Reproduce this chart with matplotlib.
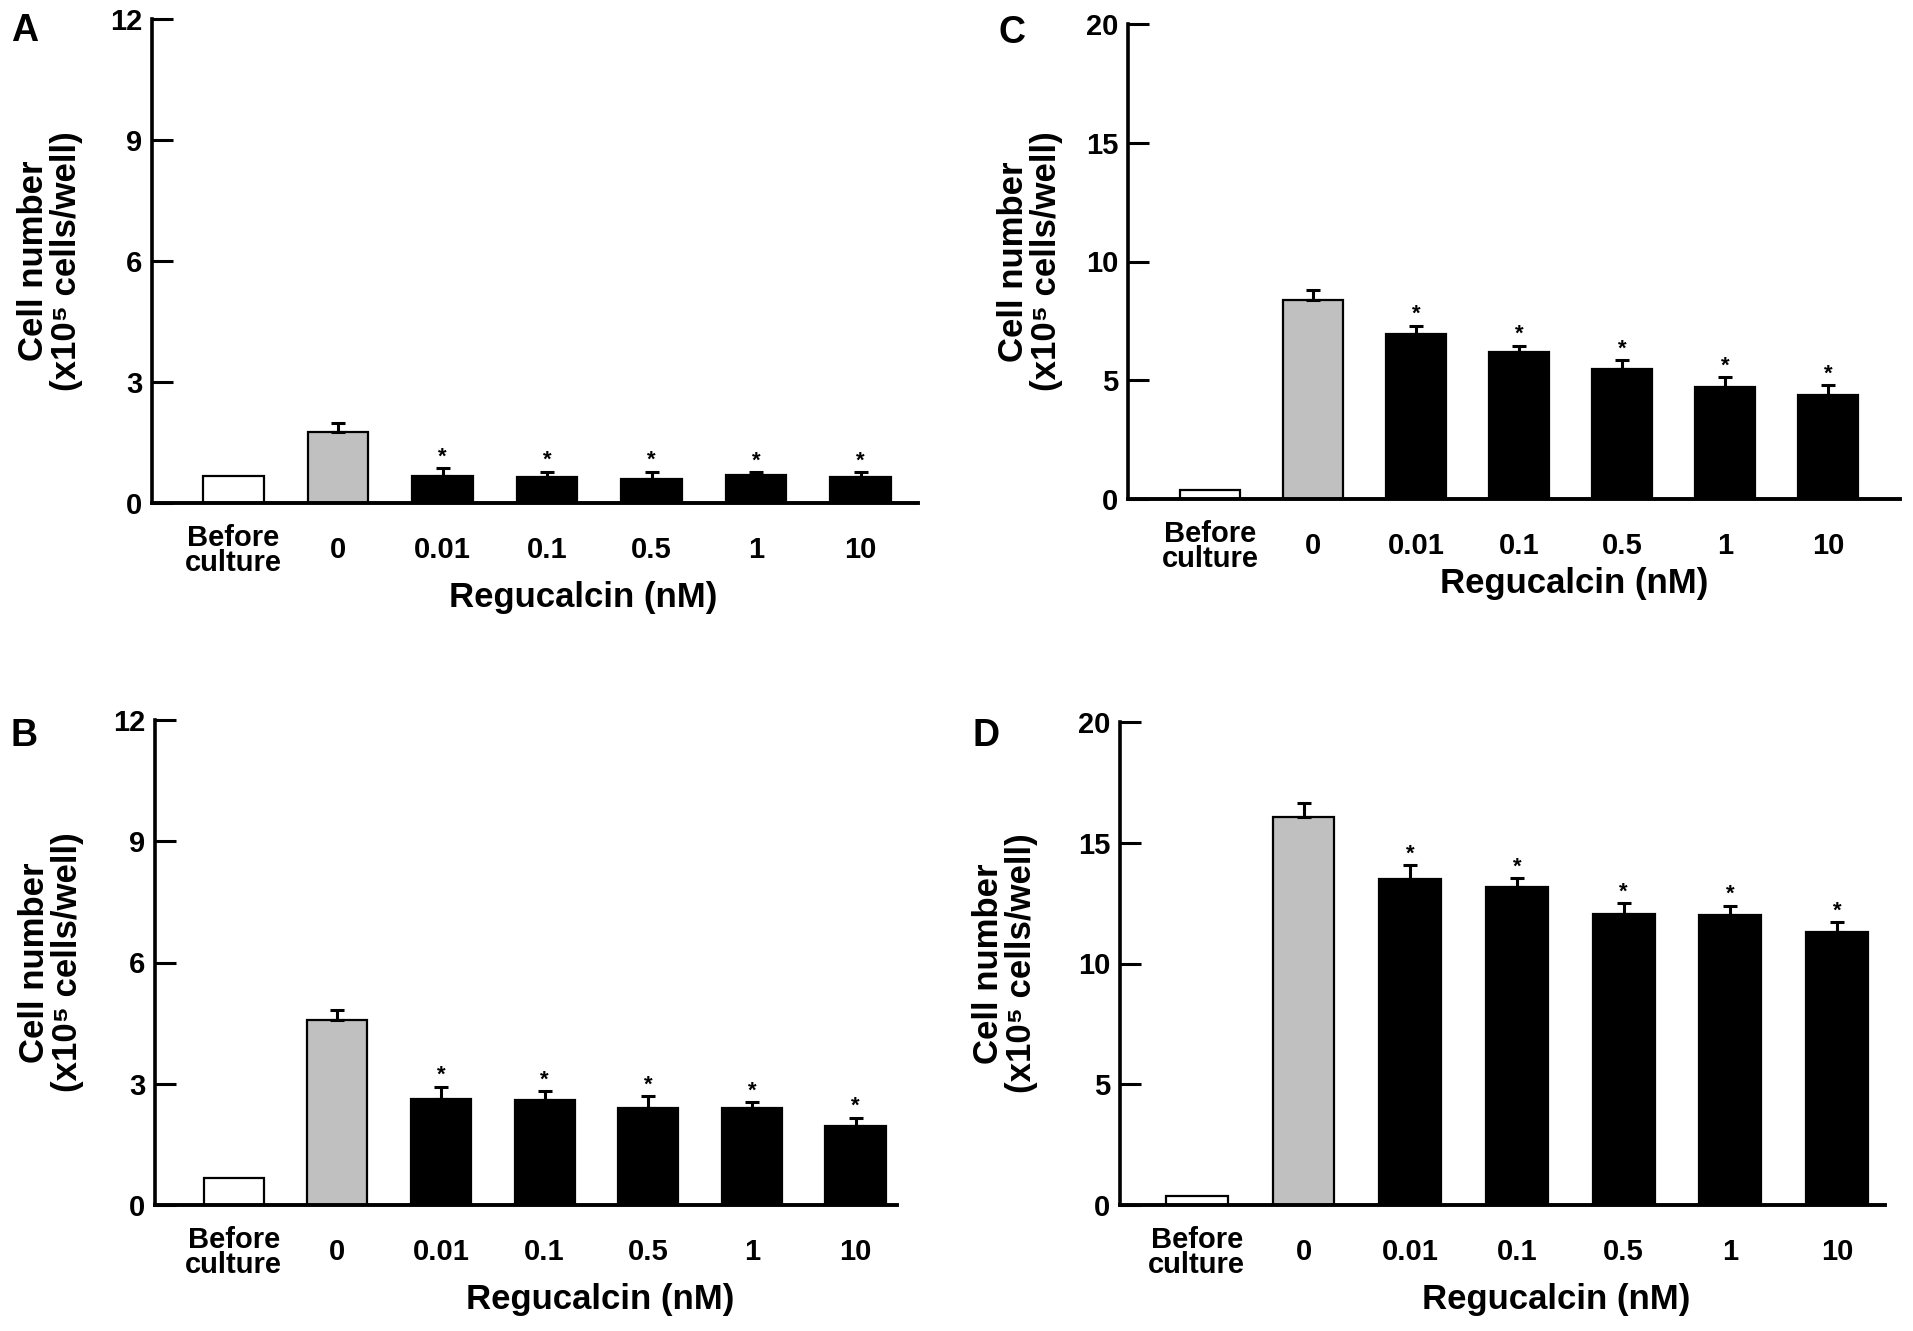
import matplotlib
matplotlib.use("Agg")
import matplotlib.pyplot as plt

plt.rcParams['font.family'] = ['Liberation Sans', 'DejaVu Sans']
plt.rcParams['font.weight'] = 'bold'

# x categories (Regucalcin, nM)
categories = ["Before\nculture", "0", "0.01", "0.1", "0.5", "1", "10"]

# cell number (x10^5 cells/well)
a_mean = [0.66, 1.77, 0.66, 0.65, 0.60, 0.69, 0.65]
a_err = [0, 0.21, 0.20, 0.13, 0.18, 0.07, 0.11]
b_mean = [0.67, 4.57, 2.63, 2.60, 2.39, 2.39, 1.95]
b_err = [0, 0.26, 0.30, 0.22, 0.30, 0.15, 0.21]
c_mean = [0.37, 8.40, 6.95, 6.20, 5.46, 4.73, 4.40]
c_err = [0, 0.40, 0.35, 0.26, 0.38, 0.40, 0.40]
d_mean = [0.36, 16.05, 13.50, 13.15, 12.05, 12.00, 11.29]
d_err = [0, 0.59, 0.58, 0.37, 0.46, 0.39, 0.41]

significant = [False, False, True, True, True, True, True]
bar_colors = ["white", "#c0c0c0", "black", "black", "black", "black", "black"]

W, H = 1913, 1331
fig = plt.figure(figsize=(W / 100, H / 100), dpi=100)


def px_axes(left, right, top, bottom):
    return fig.add_axes([left / W, 1 - bottom / H, (right - left) / W, (bottom - top) / H])


def ftext(x, y, s, **kw):
    fig.text(x / W, 1 - y / H, s, **kw)


panels = [
    # letter, means, errs, ymax, yticks, axes box (l, r, t, b), xlim, letter pos, ylabel x, xlabel pos
    ("A", a_mean, a_err, 12, [0, 3, 6, 9, 12], (152, 918, 19, 503), (-0.78, 6.55), (25, 31), 50, (583, 597)),
    ("C", c_mean, c_err, 20, [0, 5, 10, 15, 20], (1128, 1900, 24, 499), (-0.80, 6.70), (1012, 33), 1030, (1574, 583)),
    ("B", b_mean, b_err, 12, [0, 3, 6, 9, 12], (155, 897, 720, 1205), (-0.76, 6.40), (24, 736), 51, (600, 1299)),
    ("D", d_mean, d_err, 20, [0, 5, 10, 15, 20], (1120, 1885, 722, 1205), (-0.72, 6.45), (986, 736), 1005, (1556, 1299)),
]

for letter, means, errs, ymax, yticks, box, xlim, lpos, ylx, xlpos in panels:
    ax = px_axes(*box)
    x = list(range(len(categories)))
    ax.bar(x, means, width=0.58, color=bar_colors, edgecolor="black", linewidth=1.6, zorder=2)
    lower = [0] * len(errs)
    ax.errorbar(x[1:], means[1:], yerr=[lower[1:], errs[1:]], fmt="none", ecolor="black",
                elinewidth=2.2, capsize=5, capthick=2.2, zorder=3)
    for xi, m, e, sig in zip(x, means, errs, significant):
        if sig:
            ax.annotate("*", (xi, m + e), xytext=(0, 8), textcoords="offset points",
                        ha="center", va="center", fontsize=16, fontweight="bold")

    ax.set_xlim(*xlim)
    ax.set_ylim(0, ymax)
    ax.set_yticks(yticks)
    ax.set_yticklabels([str(t) for t in yticks], fontsize=21, fontweight="bold")
    ax.set_xticks(x)
    ax.set_xticklabels(categories, fontsize=21, fontweight="bold", linespacing=0.85)
    for t in ax.get_xticklabels():
        t.set_va("center")
    ax.tick_params(axis="x", length=0, pad=34)
    ax.tick_params(axis="y", direction="in", length=15, width=2.2, pad=7)
    for s in ["top", "right"]:
        ax.spines[s].set_visible(False)
    ax.spines["left"].set_linewidth(2.6)
    ax.spines["bottom"].set_linewidth(2.8)

    l, r, t, b = box
    ftext(lpos[0], lpos[1], letter, fontsize=27, fontweight="bold", ha="center", va="center")
    ftext(ylx, (t + b) / 2, "Cell number\n(x10\u2075 cells/well)", rotation=90, fontsize=25,
          fontweight="bold", ha="center", va="center", linespacing=1.0, multialignment="center")
    ftext(xlpos[0], xlpos[1], "Regucalcin (nM)", fontsize=25, fontweight="bold", ha="center", va="center")

fig.savefig("out.png", dpi=100, facecolor="white")
